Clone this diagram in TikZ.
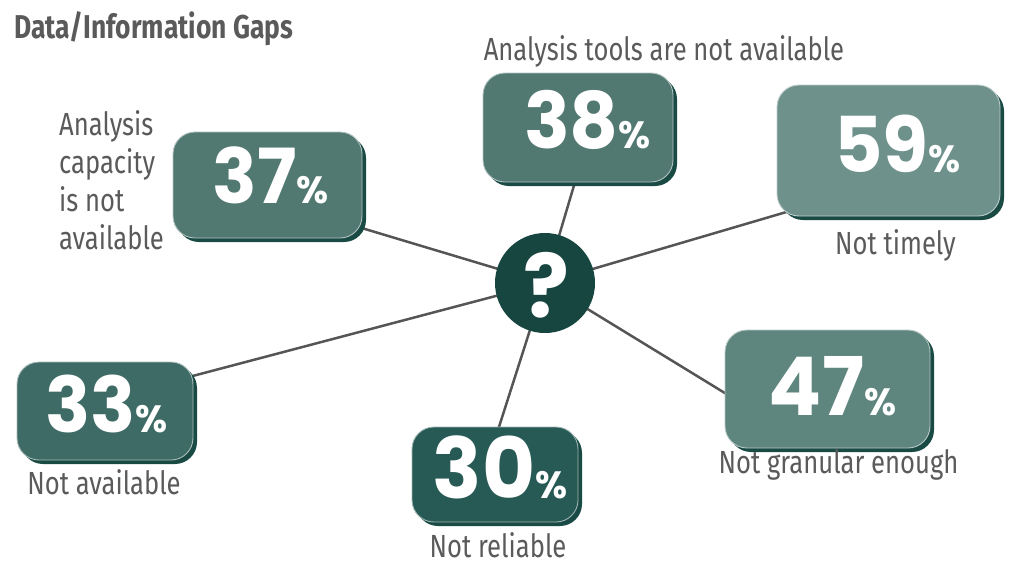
\documentclass[tikz,border=0pt]{standalone}
\usepackage{fontspec}
\setmainfont{Fira Sans}[FakeStretch=0.8]
\newfontfamily\numfont{Poppins}[FakeStretch=0.97]
\usetikzlibrary{backgrounds,shadows}
\definecolor{txtgray}{HTML}{5A5A5A}
\definecolor{linegray}{HTML}{555555}
\definecolor{shadowc}{HTML}{1A4A44}
\definecolor{qcol}{HTML}{17453F}
\definecolor{cA}{HTML}{527872}
\definecolor{cB}{HTML}{527872}
\definecolor{cC}{HTML}{6E918C}
\definecolor{cD}{HTML}{5F857F}
\definecolor{cE}{HTML}{3F6B66}
\definecolor{cF}{HTML}{285A55}
\newcommand\pctsign{{\fontsize{38}{38}\selectfont\%}}
\tikzset{
  gbox/.style={rectangle, rounded corners=22pt, inner sep=0pt, fill=#1,
    draw=white!55!#1, line width=0.9pt,
    drop shadow={shadow xshift=4pt, shadow yshift=-4pt, fill=shadowc, opacity=1}},
  pct/.style={inner sep=0pt, anchor=base, text=white, font=\numfont\bfseries},
  lbl/.style={inner sep=0pt, anchor=base, text=txtgray, font=\fontsize{32}{38}\selectfont},
  conn/.style={draw=linegray, line width=2.5pt}
}
\begin{document}
\begin{tikzpicture}[x=1pt,y=-1pt]
\useasboundingbox (0,0) rectangle (1011,566);
% title
\node[inner sep=0pt, anchor=base west, text=txtgray, font=\fontsize{33}{33}\selectfont\bfseries] (title) at (14,38) {Data/Information Gaps};
% centre
\node[circle, fill=qcol, minimum size=100pt, inner sep=0pt] (q) at (545,283) {};
\node[inner sep=0pt, text=white, font=\numfont\bfseries\fontsize{88}{88}\selectfont] (qm) at (546,285) {?};
% boxes
\node[gbox=cA, minimum width=189pt, minimum height=106pt] (b37) at (267.5,185) {};
\node[gbox=cB, minimum width=190pt, minimum height=109pt] (b38) at (578,127.5) {};
\node[gbox=cC, minimum width=223pt, minimum height=131pt] (b59) at (888.5,150.5) {};
\node[gbox=cD, minimum width=205pt, minimum height=118pt] (b47) at (827.5,389) {};
\node[gbox=cE, minimum width=176pt, minimum height=98pt] (b33) at (105,411) {};
\node[gbox=cF, minimum width=166pt, minimum height=95pt] (b30) at (495,474.5) {};
% percentages
\node[pct, font=\numfont\bfseries\fontsize{76}{76}\selectfont] (t37) at (271,203) {37\pctsign};
\node[pct, font=\numfont\bfseries\fontsize{78}{78}\selectfont] (t38) at (587.5,148) {38\pctsign};
\node[pct, font=\numfont\bfseries\fontsize{77}{77}\selectfont] (t59) at (897.5,172) {59\pctsign};
\node[pct, font=\numfont\bfseries\fontsize{81}{81}\selectfont] (t47) at (832.5,415) {47\pctsign};
\node[pct, font=\numfont\bfseries\fontsize{77}{77}\selectfont] (t33) at (106.5,432) {33\pctsign};
\node[pct, font=\numfont\bfseries\fontsize{84}{84}\selectfont] (t30) at (500,498) {30\pctsign};
% labels
\node[lbl] (l38) at (664,60) {Analysis tools are not available};
\node[lbl, anchor=north west, align=left] (l37) at (59,110) {Analysis\\capacity\\is not\\available};
\node[lbl] (l59) at (895.5,254) {Not timely};
\node[lbl] (l47) at (838.5,473) {Not granular enough};
\node[lbl] (l33) at (104,494) {Not available};
\node[lbl] (l30) at (498,557) {Not reliable};
% connector ends
\coordinate (e37) at (355,226);
\coordinate (e38) at (578,172);
\coordinate (e59) at (800,208);
\coordinate (e47) at (733,398);
\coordinate (e33) at (185,378);
\coordinate (e30) at (498,430);
\begin{pgfonlayer}{background}
\draw[conn] (q.center) -- (e37);
\draw[conn] (q.center) -- (e38);
\draw[conn] (q.center) -- (e59);
\draw[conn] (q.center) -- (e47);
\draw[conn] (q.center) -- (e33);
\draw[conn] (q.center) -- (e30);
\end{pgfonlayer}
\end{tikzpicture}
\end{document}
